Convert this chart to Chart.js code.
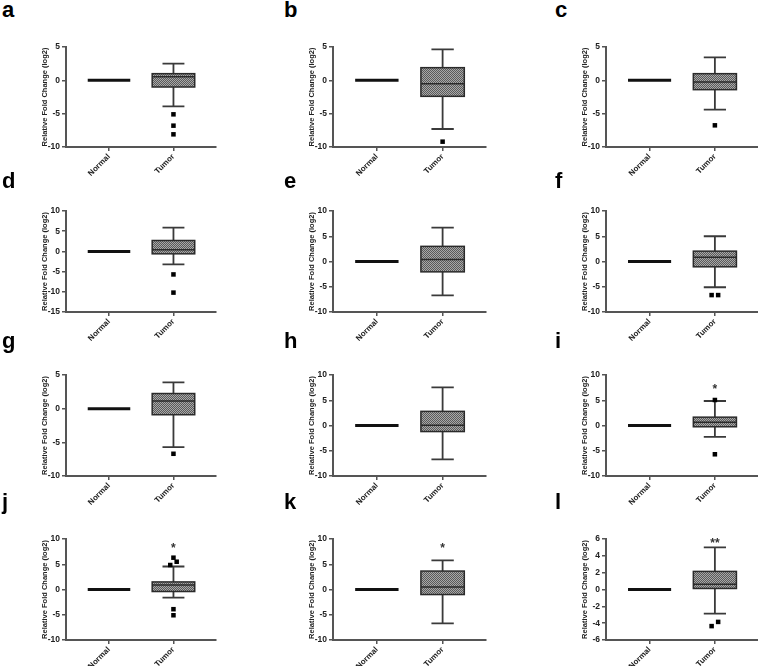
<!DOCTYPE html>
<html>
<head>
<meta charset="utf-8">
<script src="https://cdn.jsdelivr.net/npm/chart.js@4.4.0/dist/chart.umd.min.js"></script>
<style>
  html, body { margin: 0; padding: 0; background: #fff; overflow: hidden; }
  #page { position: relative; width: 758px; height: 666px; }
  canvas { position: absolute; }
  .tag { position: absolute; font: bold 22px "Liberation Sans", Arial, sans-serif; color: #000; line-height: 1; }
</style>
</head>
<body>
<div id="page"></div>
<script>
const panelLetters = ['a', 'b', 'c', 'd', 'e', 'f', 'g', 'h', 'i', 'j', 'k', 'l'];
const groups = ['Normal', 'Tumor'];

const yMin  = [-10, -10, -10, -15, -10, -10, -10, -10, -10, -10, -10, -6];
const yMax  = [5, 5, 5, 10, 10, 10, 5, 10, 10, 10, 10, 6];
const yStep = [5, 5, 5, 5, 5, 5, 5, 5, 5, 5, 5, 2];

// normal tissue is the calibrator, so every value sits at 0
const normalLevel = [0, 0, 0, 0, 0, 0, 0, 0, 0, 0, 0, 0];

const tumorLow    = [-3.9, -7.3, -4.4, -3.2, -6.7, -5.1, -5.7, -6.7, -2.25, -1.6, -6.7, -2.86];
const tumorQ1     = [-1.0, -2.4, -1.4, -0.6, -2.05, -1.05, -0.9, -1.2, -0.25, -0.4, -1.0, 0.12];
const tumorMedian = [0.55, -0.5, -0.25, 0.4, 0.4, 0.85, 1.15, 0.05, 0.65, 0.9, 0.5, 0.63];
const tumorQ3     = [1.0, 1.9, 1.0, 2.7, 3.0, 2.05, 2.25, 2.8, 1.65, 1.5, 3.65, 2.15];
const tumorHigh   = [2.5, 4.65, 3.45, 5.9, 6.7, 5.0, 3.9, 7.55, 4.85, 4.55, 5.75, 5.0];

const outlierY = [
  [-5.1, -6.8, -8.1], [-9.2], [-6.75], [-5.7, -10.2], [], [-6.65, -6.65],
  [-6.7], [], [5.05, -5.7], [4.85, 6.3, 5.5, -3.9, -5.1], [], [-4.35, -3.85]
];
const outlierX = [
  [1, 1, 1], [1], [1], [1, 1], [], [0.95, 1.05],
  [1], [], [1, 1], [0.95, 1, 1.05, 1, 1], [], [0.95, 1.05]
];

const signif  = ['', '', '', '', '', '', '', '', '*', '*', '*', '**'];
const signifY = [null, null, null, null, null, null, null, null, 7.4, 8.5, 8.4, 5.7];

// page layout
const colAxisX = [66, 333, 606];
const colPlotW = [150, 153, 152];
const rowPlotTop = [47, 211, 375, 539];
const rowPlotH = [100, 101, 101, 101];
const tagLeft = [2, 284, 555];
const tagTop = [-1, 170, 330, 491];

const FONT = '"Liberation Sans", Arial, sans-serif';
Chart.defaults.font.family = FONT;

let hatch = null;
function getHatch(ctx) {
  if (hatch) return hatch;
  const c = document.createElement('canvas');
  c.width = 2; c.height = 2;
  const g = c.getContext('2d');
  g.fillStyle = '#a8a8a8';
  g.fillRect(0, 0, 2, 2);
  g.fillStyle = '#5a5a5a';
  g.fillRect(0, 0, 1, 1);
  g.fillRect(1, 1, 1, 1);
  hatch = ctx.createPattern(c, 'repeat');
  return hatch;
}

const boxPlugin = {
  id: 'boxWhisker',
  beforeDatasetsDraw(chart, args, o) {
    const { ctx } = chart;
    const x = chart.scales.x, y = chart.scales.y;
    const unit = x.getPixelForValue(1) - x.getPixelForValue(0);
    const half = unit * 0.33;
    const cap = unit * 0.17;
    ctx.save();

    // Normal: collapsed box
    const nx = x.getPixelForValue(0);
    const ny = y.getPixelForValue(o.normal);
    ctx.strokeStyle = '#111';
    ctx.lineWidth = 3;
    ctx.beginPath();
    ctx.moveTo(nx - half, ny);
    ctx.lineTo(nx + half, ny);
    ctx.stroke();

    // Tumor
    const tx = x.getPixelForValue(1);
    const yLo = y.getPixelForValue(o.low), yHi = y.getPixelForValue(o.high);
    const y1 = y.getPixelForValue(o.q1), y3 = y.getPixelForValue(o.q3);
    const ym = y.getPixelForValue(o.median);
    ctx.strokeStyle = '#3a3a3a';
    ctx.lineWidth = 1.8;
    ctx.beginPath();
    ctx.moveTo(tx, yHi); ctx.lineTo(tx, y3);
    ctx.moveTo(tx, y1); ctx.lineTo(tx, yLo);
    ctx.moveTo(tx - cap, yHi); ctx.lineTo(tx + cap, yHi);
    ctx.moveTo(tx - cap, yLo); ctx.lineTo(tx + cap, yLo);
    ctx.stroke();

    ctx.fillStyle = getHatch(ctx);
    ctx.fillRect(tx - half, y3, half * 2, y1 - y3);
    ctx.strokeStyle = '#2a2a2a';
    ctx.lineWidth = 1.5;
    ctx.strokeRect(tx - half, y3, half * 2, y1 - y3);
    ctx.beginPath();
    ctx.moveTo(tx - half, ym); ctx.lineTo(tx + half, ym);
    ctx.stroke();
    ctx.restore();
  },
  afterDatasetsDraw(chart, args, o) {
    if (!o.mark) return;
    const { ctx } = chart;
    ctx.save();
    ctx.fillStyle = '#333';
    ctx.font = 'bold 12px ' + FONT;
    ctx.textAlign = 'center';
    ctx.textBaseline = 'middle';
    ctx.fillText(o.mark, chart.scales.x.getPixelForValue(1), chart.scales.y.getPixelForValue(o.markY) + 2);
    ctx.restore();
  }
};

const page = document.getElementById('page');

panelLetters.forEach((letter, i) => {
  const col = i % 3, row = Math.floor(i / 3);
  const plotW = colPlotW[col], plotH = rowPlotH[row];

  const tag = document.createElement('div');
  tag.className = 'tag';
  tag.textContent = letter;
  tag.style.left = tagLeft[col] + 'px';
  tag.style.top = tagTop[row] + 'px';
  page.appendChild(tag);

  const cv = document.createElement('canvas');
  cv.width = 62 + plotW + 8;
  cv.height = 10 + plotH + 42;
  cv.style.left = (colAxisX[col] - 62) + 'px';
  cv.style.top = (rowPlotTop[row] - 10) + 'px';
  page.appendChild(cv);

  new Chart(cv, {
    type: 'scatter',
    data: {
      datasets: [{
        label: 'outliers',
        data: outlierY[i].map((v, k) => ({ x: outlierX[i][k], y: v })),
        pointStyle: 'rect',
        pointRadius: 3.2,
        backgroundColor: '#000',
        borderWidth: 0,
        clip: false
      }]
    },
    options: {
      responsive: false,
      animation: false,
      events: [],
      layout: { padding: { left: 2, right: 8, top: 10, bottom: 0 } },
      plugins: {
        legend: { display: false },
        tooltip: { enabled: false },
        boxWhisker: {
          normal: normalLevel[i],
          low: tumorLow[i], q1: tumorQ1[i], median: tumorMedian[i],
          q3: tumorQ3[i], high: tumorHigh[i],
          mark: signif[i], markY: signifY[i]
        }
      },
      scales: {
        x: {
          type: 'linear',
          min: -0.667,
          max: 1.66,
          afterBuildTicks: s => { s.ticks = groups.map((g, k) => ({ value: k })); },
          afterFit: s => { s.height = 42; },
          grid: { drawOnChartArea: false, drawTicks: true, tickLength: 4, color: '#555', lineWidth: 1.5 },
          border: { display: true, color: '#555', width: 2 },
          ticks: {
            autoSkip: false, minRotation: 45, maxRotation: 45, padding: 1,
            color: '#222', font: { size: 8, weight: 'bold' },
            callback: v => groups[v]
          }
        },
        y: {
          min: yMin[i],
          max: yMax[i],
          afterFit: s => { s.width = 60; },
          grid: { drawOnChartArea: false, drawTicks: true, tickLength: 4, color: '#555', lineWidth: 1.5 },
          border: { display: true, color: '#555', width: 2 },
          ticks: { stepSize: yStep[i], padding: 2, color: '#222', font: { size: 8.5, weight: 'bold' } },
          title: {
            display: true,
            text: 'Relative Fold Change (log2)',
            color: '#222',
            font: { size: 7.5, weight: 'bold' },
            padding: { top: 34, bottom: 0 }
          }
        }
      }
    },
    plugins: [boxPlugin]
  });
});
</script>
</body>
</html>
